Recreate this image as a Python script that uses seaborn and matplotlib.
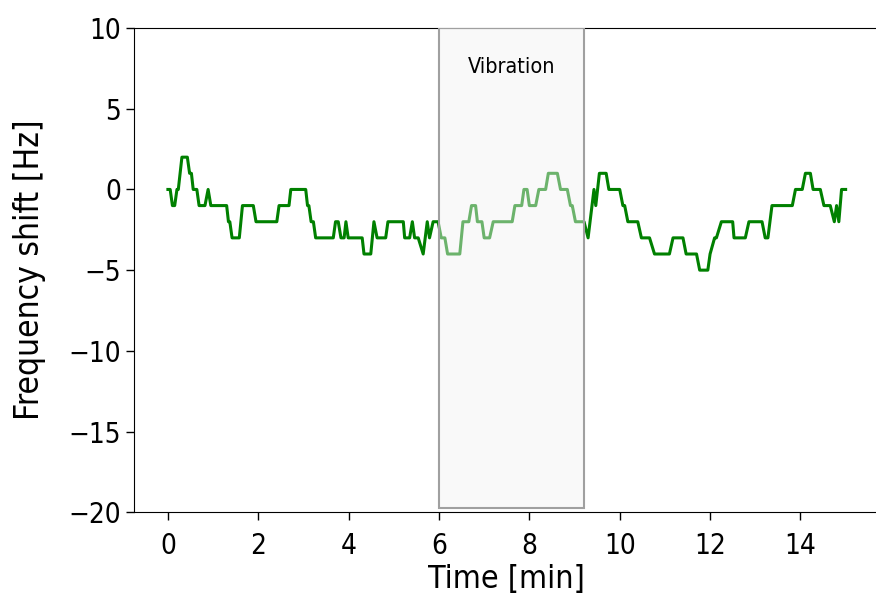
import numpy as np
import pandas as pd
import matplotlib
matplotlib.use("Agg")
import matplotlib.pyplot as plt
from matplotlib.patches import Rectangle
import seaborn as sns

# Frequency shift trace (vertices)
time_min = [0.0, 0.05, 0.1, 0.15, 0.2, 0.23, 0.31, 0.43, 0.48, 0.52,
            0.56, 0.64, 0.69, 0.82, 0.89, 0.95, 1.3, 1.34, 1.37, 1.42,
            1.58, 1.65, 1.89, 1.95, 2.41, 2.46, 2.68, 2.72, 3.05, 3.09,
            3.12, 3.17, 3.22, 3.27, 3.66, 3.71, 3.77, 3.83, 3.9, 3.94,
            3.99, 4.3, 4.34, 4.49, 4.56, 4.63, 4.82, 4.87, 5.21, 5.24,
            5.35, 5.41, 5.46, 5.54, 5.65, 5.74, 5.79, 5.87, 5.98, 6.05,
            6.13, 6.19, 6.46, 6.53, 6.66, 6.72, 6.81, 6.85, 6.95, 7.0,
            7.12, 7.2, 7.62, 7.68, 7.83, 7.88, 7.95, 8.0, 8.14, 8.21,
            8.36, 8.42, 8.62, 8.69, 8.84, 8.91, 8.95, 9.02, 9.21, 9.3,
            9.43, 9.47, 9.55, 9.7, 9.76, 10.0, 10.07, 10.11, 10.18, 10.4,
            10.48, 10.66, 10.77, 11.1, 11.18, 11.4, 11.47, 11.7, 11.77, 11.95,
            12.0, 12.1, 12.14, 12.25, 12.5, 12.53, 12.78, 12.86, 13.15, 13.22,
            13.28, 13.37, 13.82, 13.89, 14.04, 14.11, 14.22, 14.28, 14.44, 14.52,
            14.66, 14.75, 14.8, 14.85, 14.91, 15.0]
shift_hz = [0, 0, -1, -1, 0, 0, 2, 2, 1, 1,
            0, 0, -1, -1, 0, -1, -1, -2, -2, -3,
            -3, -1, -1, -2, -2, -1, -1, 0, 0, -1,
            -1, -2, -2, -3, -3, -2, -2, -3, -3, -2,
            -3, -3, -4, -4, -2, -3, -3, -2, -2, -3,
            -3, -2, -3, -3, -4, -2, -3, -2, -2, -3,
            -3, -4, -4, -2, -2, -1, -1, -2, -2, -3,
            -3, -2, -2, -1, -1, 0, 0, -1, -1, 0,
            0, 1, 1, 0, 0, -1, -1, -2, -2, -3,
            0, -1, 1, 1, 0, 0, -1, -1, -2, -2,
            -3, -3, -4, -4, -3, -3, -4, -4, -5, -5,
            -4, -3, -3, -2, -2, -3, -3, -2, -2, -3,
            -3, -1, -1, 0, 0, 1, 1, 0, 0, -1,
            -1, -2, -1, -2, 0, 0]

vib_start, vib_end = 6.0, 9.2

df = pd.DataFrame({"time": time_min, "shift": shift_hz})

plt.rcParams["font.family"] = ["DejaVu Sans"]
plt.rcParams["font.stretch"] = "condensed"

fig = plt.figure(figsize=(8.76, 5.97), dpi=100)
ax = fig.add_axes([0.153, 0.142, 0.851, 0.811])

sns.lineplot(data=df, x="time", y="shift", color="green", linewidth=2.2,
             estimator=None, sort=False, ax=ax)

# shaded vibration window drawn over the trace
box = Rectangle((vib_start, -19.75), vib_end - vib_start, 29.75,
                facecolor=(0.95, 0.95, 0.95, 0.45), edgecolor="#a0a0a0",
                linewidth=1.5, zorder=3)
ax.add_patch(box)
ax.text((vib_start + vib_end) / 2, 7.6, "Vibration", ha="center",
        va="center", fontsize=15.5, zorder=5)

ax.set_xlim(-0.75, 15.75)
ax.set_ylim(-20, 10)
ax.set_xticks(np.arange(0, 15, 2))
ax.set_yticks(np.arange(-20, 11, 5))
ax.tick_params(labelsize=20, length=6, width=1)
ax.tick_params(axis="x", pad=8)
ax.set_xlabel("Time [min]", fontsize=23, labelpad=3)
ax.set_ylabel("Frequency shift [Hz]", fontsize=24)
ax.yaxis.set_label_coords(-0.118, 0.5)

fig.savefig("out.png", dpi=100)
